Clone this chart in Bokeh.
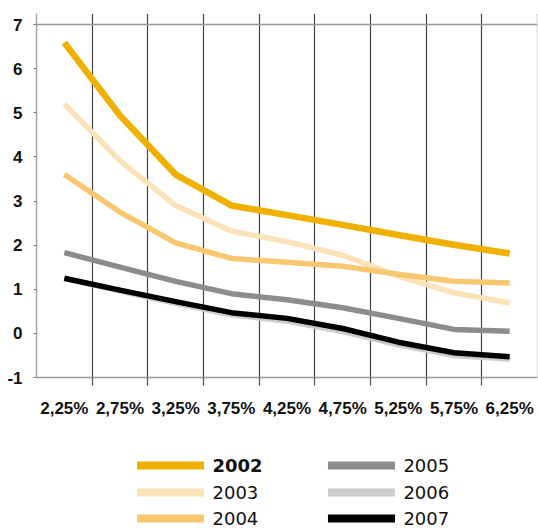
from bokeh.plotting import figure
from bokeh.models import Range1d, FixedTicker, Span, ColumnDataSource
from bokeh.layouts import column
from bokeh.embed import file_html
from bokeh.resources import INLINE
from bokeh.core.properties import value

# ---- data ----
categories = ["2,25%", "2,75%", "3,25%", "3,75%", "4,25%", "4,75%", "5,25%", "5,75%", "6,25%"]
years = ["2002", "2003", "2004", "2005", "2006", "2007"]
y2002 = [6.59, 4.94, 3.60, 2.90, 2.68, 2.46, 2.23, 2.01, 1.81]
y2003 = [5.20, 3.91, 2.90, 2.32, 2.08, 1.77, 1.30, 0.92, 0.69]
y2004 = [3.60, 2.75, 2.05, 1.70, 1.61, 1.52, 1.34, 1.18, 1.14]
y2005 = [1.83, 1.50, 1.18, 0.90, 0.76, 0.58, 0.34, 0.09, 0.05]
y2006 = [1.24, 0.96, 0.68, 0.42, 0.28, 0.04, -0.26, -0.50, -0.58]
y2007 = [1.25, 0.98, 0.72, 0.47, 0.34, 0.11, -0.20, -0.44, -0.53]
y_ticks = [-1, 0, 1, 2, 3, 4, 5, 6, 7]

series = [y2002, y2003, y2004, y2005, y2006, y2007]
colors = ["#F0B000", "#FCE2B8", "#F8C870", "#8C8C8C", "#CCCCCC", "#000000"]
widths = [6.5, 5.5, 5.5, 5.5, 5.5, 5.5]

FONT = "Liberation Sans"

xs = list(range(len(categories)))
boundaries = [i + 0.5 for i in range(len(categories) - 1)]

p = figure(width=538, height=420, output_backend="svg", toolbar_location=None,
           x_range=Range1d(-0.5, len(categories) - 0.5), y_range=Range1d(-1, 7.25),
           min_border_left=36, min_border_right=1, min_border_top=13, min_border_bottom=34)
p.outline_line_color = None
p.background_fill_color = "white"
p.border_fill_color = "white"

# x axis
p.xaxis.ticker = FixedTicker(ticks=xs, minor_ticks=boundaries)
p.xaxis.major_label_overrides = {i: c for i, c in enumerate(categories)}
p.xaxis.major_tick_line_color = None
p.xaxis.major_tick_out = 0
p.xaxis.major_tick_in = 0
p.xaxis.minor_tick_line_color = "#555555"
p.xaxis.minor_tick_out = 8
p.xaxis.minor_tick_in = 0
p.xaxis.minor_tick_line_width = 1.2
p.xaxis.axis_line_color = "#9A9A9A"
p.xaxis.axis_line_width = 1.5
p.xaxis.major_label_standoff = 13
p.xaxis.major_label_text_font = FONT
p.xaxis.major_label_text_font_style = "bold"
p.xaxis.major_label_text_font_size = "17px"
p.xaxis.major_label_text_color = "#111111"

# y axis
p.yaxis.ticker = FixedTicker(ticks=y_ticks)
p.yaxis.major_label_overrides = {t: str(t) for t in y_ticks}
p.yaxis.minor_tick_line_color = None
p.yaxis.major_tick_out = 3
p.yaxis.major_tick_in = 0
p.yaxis.major_tick_line_color = "#777777"
p.yaxis.axis_line_color = "#A8A8A8"
p.yaxis.axis_line_width = 1.5
p.yaxis.major_label_standoff = 11
p.yaxis.major_label_text_font = FONT
p.yaxis.major_label_text_font_style = "bold"
p.yaxis.major_label_text_font_size = "17px"
p.yaxis.major_label_text_color = "#111111"

# grids
p.ygrid.grid_line_color = None
p.xgrid.ticker = FixedTicker(ticks=boundaries)
p.xgrid.grid_line_color = "#444444"
p.xgrid.grid_line_width = 1.2

p.add_layout(Span(location=max(y_ticks), dimension="width", line_color="#999999", line_width=1.6))
p.add_layout(Span(location=len(categories) - 0.5, dimension="height", line_color="#C8C8C8", line_width=1.5))

for ys, c, w in zip(series, colors, widths):
    p.line(xs, ys, line_color=c, line_width=w, line_join="round")

# ---- legend panel ----
lg = figure(width=538, height=108, output_backend="svg", toolbar_location=None,
            x_range=Range1d(0, 538), y_range=Range1d(108, 0),
            min_border=0)
lg.axis.visible = False
lg.grid.visible = False
lg.outline_line_color = None
lg.background_fill_color = "white"
lg.border_fill_color = "white"

col_x = [108, 313]
row_y = [45, 72, 98]
sx0, sx1, tx = [], [], []
sy = []
for k in range(len(years)):
    ci, ri = divmod(k, 3)
    sx0.append(col_x[ci])
    sx1.append(col_x[ci] + 72)
    tx.append(col_x[ci] + 81)
    sy.append(row_y[ri])

lsrc = ColumnDataSource(dict(x0=sx0, x1=sx1, y=sy, tx=tx, label=years, color=colors,
                             style=["bold"] + ["normal"] * (len(years) - 1)))
lg.segment(x0="x0", y0="y", x1="x1", y1="y", line_color="color", line_width=8, source=lsrc)
lg.text(x="tx", y="y", text="label", text_font=value("DejaVu Sans"), text_font_size="18px",
        text_font_style="style", text_baseline="middle", text_align="left",
        text_color="#111111", source=lsrc)

layout = column(p, lg, spacing=0)
open("out.html", "w").write(file_html(layout, INLINE))
